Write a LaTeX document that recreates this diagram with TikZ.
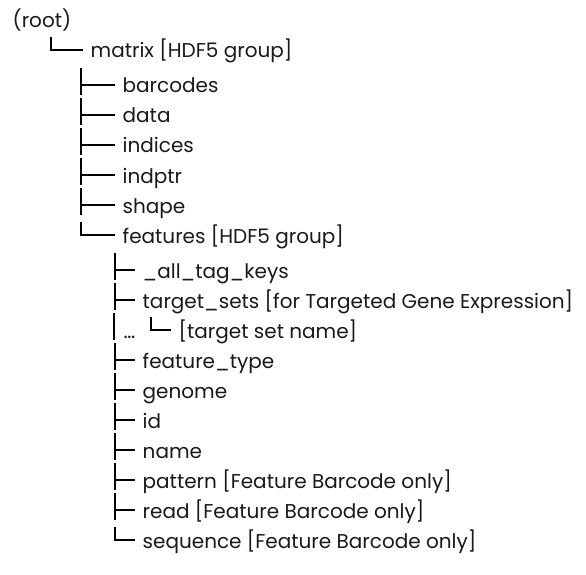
\documentclass[tikz,border=0pt]{standalone}
\usepackage{fontspec}
\setmainfont{Poppins}
\usetikzlibrary{calc}

% side branch into node #1, arm length #2
\newcommand{\teeto}[2]{%
  \draw ($(#1.base west)+(-#2-7,-25)$) -- ++(0,27);
  \draw ($(#1.base west)+(-#2-7,-8)$) -- ++(#2,0);
}
% last branch into node #1, arm length #2
\newcommand{\cornerto}[2]{%
  \draw ($(#1.base west)+(-#2-7,-21)$) -- ++(0,13) -- ++(#2,0);
}

\begin{document}
\begin{tikzpicture}[x=1pt, y=-1pt, line width=1.4pt,
    entry/.style={anchor=base west, inner sep=0pt, text=black!90,
      font=\fontsize{20}{24}\selectfont}]

    \useasboundingbox (0,0) rectangle (586,575);

    \node[entry] (root) at (12, 28) {(root)};
    \node[entry] (matrix) at (90, 58) {matrix [HDF5 group]};
    \cornerto{matrix}{32}

    % datasets of matrix
    \node[entry] (barcodes) at (122, 93) {barcodes};
    \node[entry] (data) at (122, 123) {data};
    \node[entry] (indices) at (122, 153) {indices};
    \node[entry] (indptr) at (122, 183) {indptr};
    \node[entry] (shape) at (122, 213) {shape};
    \node[entry] (features) at (122, 243) {features [HDF5 group]};
    \teeto{barcodes}{34}
    \teeto{data}{34}
    \teeto{indices}{34}
    \teeto{indptr}{34}
    \teeto{shape}{34}
    \cornerto{features}{34}

    % datasets of features
    \node[entry] (tagkeys) at (142, 278) {\_all\_tag\_keys};
    \node[entry] (targetsets) at (142, 308) {target\_sets [for Targeted Gene Expression]};
    \node[entry] (dots) at (123, 338) {\dots};
    \node[entry] (setname) at (178, 338) {[target set name]};
    \node[entry] (ftype) at (142, 368) {feature\_type};
    \node[entry] (genome) at (142, 398) {genome};
    \node[entry] (id) at (142, 428) {id};
    \node[entry] (name) at (142, 458) {name};
    \node[entry] (pattern) at (142, 488) {pattern [Feature Barcode only]};
    \node[entry] (read) at (142, 518) {read [Feature Barcode only]};
    \node[entry] (sequence) at (142, 548) {sequence [Feature Barcode only]};
    \teeto{tagkeys}{20}
    \teeto{targetsets}{20}
    \draw ($(dots.base west)+(-9,-25)$) -- ++(0,27);
    \cornerto{setname}{20}
    \teeto{ftype}{20}
    \teeto{genome}{20}
    \teeto{id}{20}
    \teeto{name}{20}
    \teeto{pattern}{20}
    \teeto{read}{20}
    \cornerto{sequence}{20}

\end{tikzpicture}
\end{document}
